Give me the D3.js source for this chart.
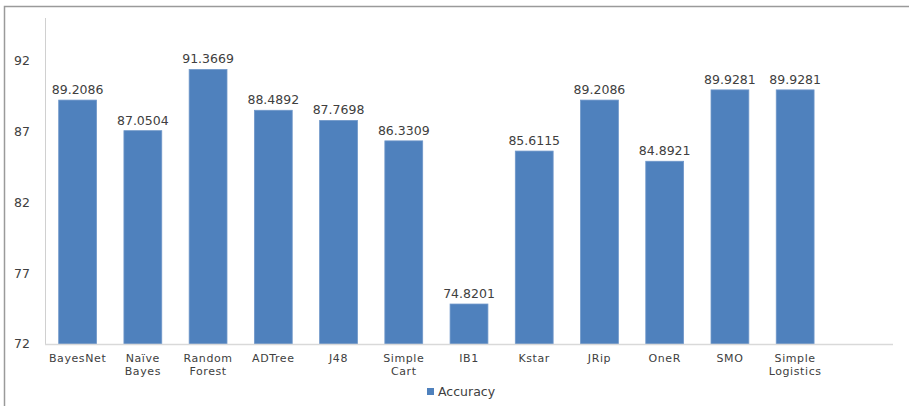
<!DOCTYPE html>
<html>
<head>
<meta charset="utf-8">
<script src="https://cdn.jsdelivr.net/npm/d3@7"></script>
<style>
  body { margin: 0; background: #fff; }
  svg { display: block; font-family: "DejaVu Sans", Verdana, sans-serif; }
</style>
</head>
<body>
<script>
var categories = ['BayesNet', 'Naïve Bayes', 'Random Forest', 'ADTree', 'J48', 'Simple Cart',
    'IB1', 'Kstar', 'JRip', 'OneR', 'SMO', 'Simple Logistics'];
var accuracy = [89.2086, 87.0504, 91.3669, 88.4892, 87.7698, 86.3309,
    74.8201, 85.6115, 89.2086, 84.8921, 89.9281, 89.9281];
var yTicks = [72, 77, 82, 87, 92];
var seriesName = 'Accuracy';

var width = 909, height = 406;
var margin = {left: 45, right: 16, top: 18, bottom: 62};
var barColor = '#4f81bd';
var textColor = '#404040';

var svg = d3.select('body').append('svg')
    .attr('width', width)
    .attr('height', height);

// outer frame (top and left edge only visible)
svg.append('path')
    .attr('d', 'M4.5,' + height + 'V6.5H' + width)
    .attr('fill', 'none')
    .attr('stroke', '#9a9a9a')
    .attr('stroke-width', 1.5);

// one spare slot on the right like the original
var slots = categories.concat(['']);

var x = d3.scaleBand()
    .domain(slots)
    .range([margin.left, width - margin.right])
    .paddingInner(0.42)
    .paddingOuter(0.21);

var y = d3.scaleLinear()
    .domain([72, 95])
    .range([height - margin.bottom, margin.top]);

// y axis
svg.append('line')
    .attr('x1', margin.left + 0.5).attr('x2', margin.left + 0.5)
    .attr('y1', y(95)).attr('y2', y(72))
    .attr('stroke', '#d0d0d0');

svg.selectAll('.ytick')
    .data(yTicks)
    .enter().append('text')
    .attr('class', 'ytick')
    .attr('x', 30)
    .attr('y', function(d) { return y(d); })
    .attr('dy', '0.35em')
    .attr('text-anchor', 'end')
    .attr('fill', textColor)
    .style('font-size', '12.5px')
    .text(function(d) { return d; });

// bars
svg.selectAll('.bar')
    .data(accuracy)
    .enter().append('rect')
    .attr('class', 'bar')
    .attr('x', function(d, i) { return x(categories[i]); })
    .attr('y', function(d) { return y(d); })
    .attr('width', x.bandwidth())
    .attr('height', function(d) { return y(72) - y(d); })
    .attr('fill', barColor)
    .attr('stroke', '#6f97c9')
    .attr('stroke-width', 0.8);

// x axis baseline
svg.append('line')
    .attr('x1', margin.left).attr('x2', width - margin.right)
    .attr('y1', y(72) + 0.5).attr('y2', y(72) + 0.5)
    .attr('stroke', '#d9d9d9')
    .attr('stroke-width', 1.5);

// data labels
svg.selectAll('.val')
    .data(accuracy)
    .enter().append('text')
    .attr('class', 'val')
    .attr('x', function(d, i) { return x(categories[i]) + x.bandwidth() / 2; })
    .attr('y', function(d) { return y(d) - 6; })
    .attr('text-anchor', 'middle')
    .attr('fill', textColor)
    .style('font-size', '12.5px')
    .text(function(d) { return d.toFixed(4); });

// category labels, wrapped onto two lines
var catText = svg.selectAll('.cat')
    .data(categories)
    .enter().append('text')
    .attr('class', 'cat')
    .attr('text-anchor', 'middle')
    .attr('fill', textColor)
    .style('font-size', '11px')
    .style('letter-spacing', '0.6px');

catText.each(function(d) {
    var words = d.split(' ');
    var cx = x(d) + x.bandwidth() / 2;
    var t = d3.select(this);
    words.forEach(function(w, j) {
        t.append('tspan')
            .attr('x', cx)
            .attr('y', y(72) + 18 + j * 13)
            .text(w);
    });
});

// legend
var legend = svg.append('g')
    .attr('transform', 'translate(' + 427 + ',' + 392 + ')');
legend.append('rect')
    .attr('x', 0).attr('y', -4)
    .attr('width', 7).attr('height', 7)
    .attr('fill', barColor);
legend.append('text')
    .attr('x', 11)
    .attr('dy', '0.35em')
    .attr('fill', textColor)
    .style('font-size', '12.5px')
    .text(seriesName);
</script>
</body>
</html>
